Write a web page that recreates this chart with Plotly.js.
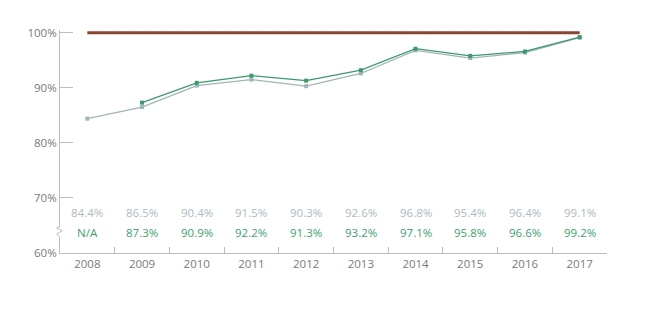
<!DOCTYPE html>
<html>
<head>
<meta charset="utf-8">
<script src="https://cdn.plot.ly/plotly-3.0.1.min.js"></script>
<style>html,body{margin:0;padding:0;background:#fff;}#chart{width:650px;height:325px;}</style>
</head>
<body>
<div id="chart"></div>
<script>
var years = ['2008','2009','2010','2011','2012','2013','2014','2015','2016','2017'];
var greySeries = [84.4, 86.5, 90.4, 91.5, 90.3, 92.6, 96.8, 95.4, 96.4, 99.1];
var greenSeries = [null, 87.3, 90.9, 92.2, 91.3, 93.2, 97.1, 95.8, 96.6, 99.2];
var targetSeries = [100, 100, 100, 100, 100, 100, 100, 100, 100, 100];
var yTickVals = [60, 70, 80, 90, 100];
var yTickText = ['60%', '70%', '80%', '90%', '100%'];

var greyColor = '#a1b4b9';
var greenColor = '#3a9a6c';
var font = 'Open Sans, Lato, sans-serif';

var traces = [
  {x: years, y: targetSeries, type: 'scatter', mode: 'lines',
   line: {color: '#8a4431', width: 3}, hoverinfo: 'skip'},
  {x: years, y: greySeries, type: 'scatter', mode: 'lines+markers',
   line: {color: greyColor, width: 1.3}, marker: {symbol: 'square', size: 4, color: greyColor}},
  {x: years, y: greenSeries, type: 'scatter', mode: 'lines+markers',
   line: {color: greenColor, width: 1.3}, marker: {symbol: 'square', size: 4, color: greenColor}}
];

var annotations = [];
years.forEach(function (yr, i) {
  annotations.push({x: i, y: 67.3, xref: 'x', yref: 'y', showarrow: false,
    text: greySeries[i].toFixed(1) + '%', font: {family: font, size: 11.5, color: '#adbac0'}});
  annotations.push({x: i, y: 63.65, xref: 'x', yref: 'y', showarrow: false,
    text: greenSeries[i] === null ? 'N/A' : greenSeries[i].toFixed(1) + '%',
    font: {family: font, size: 11.5, color: '#3aa36c'}});
});

var layout = {
  width: 650, height: 325,
  margin: {l: 60, r: 43, t: 30, b: 72},
  paper_bgcolor: '#fff', plot_bgcolor: '#fff',
  showlegend: false,
  font: {family: font, size: 11, color: '#7a7a7a'},
  xaxis: {
    type: 'category', range: [-0.5, 9.5], showgrid: false, zeroline: false,
    showline: true, linecolor: '#bdbdbd', linewidth: 1,
    ticks: 'inside', tickson: 'boundaries', ticklen: 6, tickcolor: '#bdbdbd',
    tickfont: {family: font, size: 11.5, color: '#7a7a7a'}
  },
  yaxis: {
    range: [60, 100.5], showgrid: false, zeroline: false,
    showline: true, linecolor: '#bdbdbd', linewidth: 1,
    ticks: 'inside', ticklen: 13, tickcolor: '#bdbdbd',
    tickvals: yTickVals, ticktext: yTickText,
    tickfont: {family: font, size: 11.5, color: '#7a7a7a'}
  },
  annotations: annotations,
  shapes: [
    {type: 'rect', xref: 'paper', yref: 'paper', x0: -0.006, x1: 0.004, y0: 0.07, y1: 0.12,
     fillcolor: '#fff', line: {width: 0}, layer: 'above'},
    {type: 'path', xref: 'paper', yref: 'paper',
     path: 'M 0,0.07 L -0.006,0.085 L 0.004,0.1 L -0.006,0.112 L 0,0.12',
     line: {color: '#bdbdbd', width: 1}, layer: 'above'}
  ]
};

Plotly.newPlot('chart', traces, layout, {displayModeBar: false, staticPlot: true});
</script>
</body>
</html>
